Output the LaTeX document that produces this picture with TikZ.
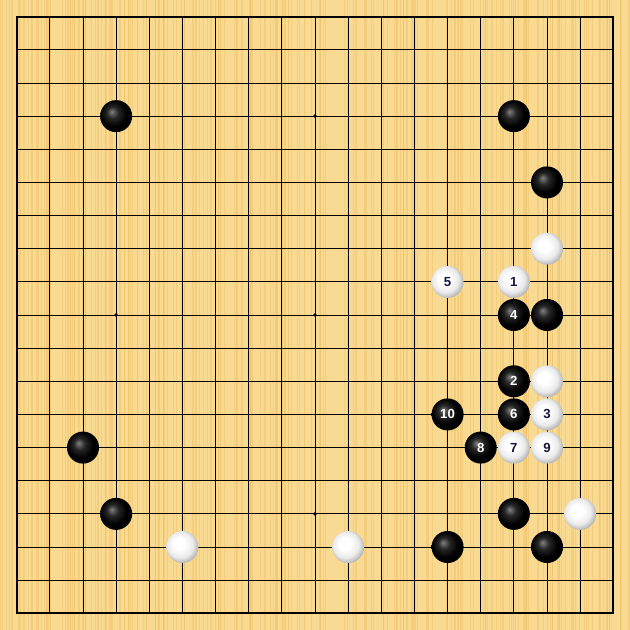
\documentclass[tikz,border=0pt]{standalone}
\usepackage{fontspec}
\setsansfont{Liberation Sans}
\definecolor{brett}{RGB}{249,218,146}
\definecolor{maser}{RGB}{238,190,100}
\definecolor{ziffer}{RGB}{22,22,64}
\pgfdeclareradialshading{schwarzstein}{\pgfpoint{-7bp}{7bp}}{color(0bp)=(black!50); color(9bp)=(black!85); color(20bp)=(black); color(28bp)=(black); color(34bp)=(black!78); color(50bp)=(black!78)}
\pgfdeclareradialshading{weissstein}{\pgfpoint{-6bp}{6bp}}{color(0bp)=(white); color(9bp)=(white); color(20bp)=(black!8); color(28bp)=(black!30); color(34bp)=(black!50); color(50bp)=(black!50)}
\tikzset{
	stein/.style={circle, minimum size=0.58cm, inner sep=0pt, font=\sffamily\bfseries\fontsize{6.8}{7}\selectfont},
	schwarz/.style={stein, shading=schwarzstein, text=white},
	weiss/.style={stein, shading=weissstein, text=ziffer},
}
\begin{document}
\begin{tikzpicture}[x=0.6cm, y=-0.6cm]
	\useasboundingbox (0.496,0.496) rectangle (19.504,19.504);
	\fill[brett] (0.496,0.496) rectangle (19.504,19.504);%Brett
	\pgfmathsetseed{7}
	\foreach \i in {1,...,240} {%Maserung
		\pgfmathsetmacro\xs{0.5+rnd*19}
		\draw[maser, opacity=0.45, line width=0.45pt] (\xs,0.496) -- (\xs,19.504);
	}
	\foreach \k in {2,...,18} {%Linien
		\draw[line width=0.5pt] (\k,1) -- (\k,19);
		\draw[line width=0.5pt] (1,\k) -- (19,\k);
	}
	\draw[line width=1pt] (1,1) rectangle (19,19);%Rand
	\foreach \c in {4,10,16}
		\foreach \r in {4,10,16}
			\fill (\c,\r) circle (0.06);%Sternpunkte
	% schwarze Steine
	\foreach \c/\r [count=\n] in {4/4, 16/4, 17/6, 17/10, 3/14, 4/16, 16/16, 14/17, 17/17}
		\node[schwarz] (b\n) at (\c,\r) {};
	% weisse Steine
	\foreach \c/\r [count=\n] in {17/8, 17/12, 18/16, 6/17, 11/17}
		\node[weiss] (w\n) at (\c,\r) {};
	% Zuege
	\node[weiss] (s1) at (16,9) {1};
	\node[schwarz] (s2) at (16,12) {2};
	\node[weiss] (s3) at (17,13) {3};
	\node[schwarz] (s4) at (16,10) {4};
	\node[weiss] (s5) at (14,9) {5};
	\node[schwarz] (s6) at (16,13) {6};
	\node[weiss] (s7) at (16,14) {7};
	\node[schwarz] (s8) at (15,14) {8};
	\node[weiss] (s9) at (17,14) {9};
	\node[schwarz] (s10) at (14,13) {10};
\end{tikzpicture}
\end{document}
